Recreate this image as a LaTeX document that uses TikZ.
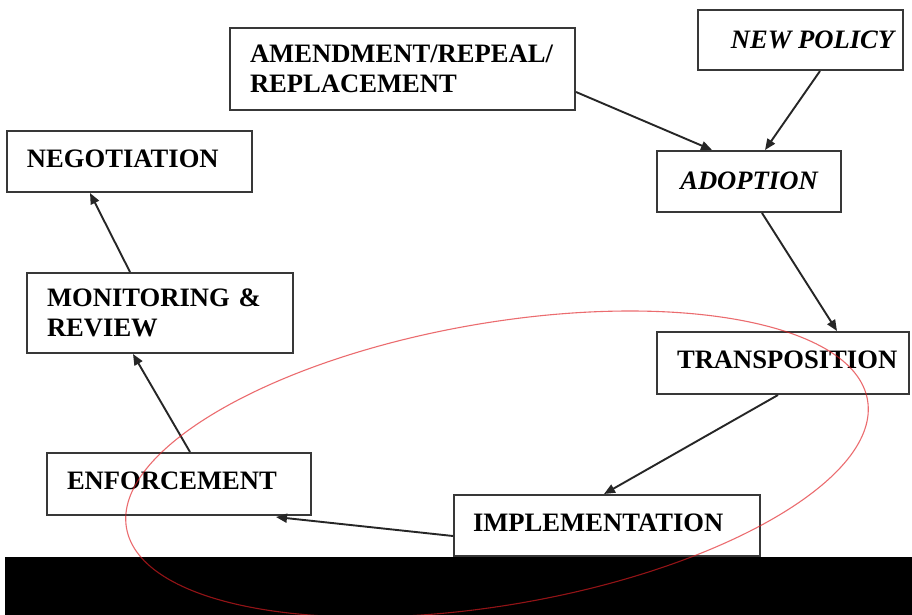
\documentclass[tikz,border=0pt]{standalone}
\usepackage{fontspec}
\setmainfont{Liberation Serif}
\usetikzlibrary{calc,arrows.meta}
\definecolor{ellred}{RGB}{225,30,35}
\begin{document}
\begin{tikzpicture}[x=1pt,y=-1pt,
  box/.style={draw=black!78, line width=2pt, fill=white,
    font=\fontsize{26.6}{30.5}\selectfont\bfseries,
    inner xsep=0pt, inner ysep=0pt, anchor=center},
  lbox/.style={box, align=left},
  conn/.style={draw=black!85, line width=1.9pt, -{Triangle[length=11pt,width=9pt]}},
]
\useasboundingbox (0,0) rectangle (912,615);
\fill[white] (0,0) rectangle (912,615);
\fill[black] (5,557) rectangle (912,615);

% boxes
\node[lbox, minimum width=345pt, minimum height=82pt, text width=305pt] (amd) at (402.5,69)
  {AMENDMENT/REPEAL/\\REPLACEMENT};
\node[box, minimum width=205pt, minimum height=60pt] (newp) at (800.5,40)
  {\hspace*{24pt}\itshape NEW POLICY};
\node[box, minimum width=184pt, minimum height=61pt, text depth=2pt] (ado) at (749,181.5)
  {\itshape ADOPTION};
\node[lbox, minimum width=245pt, minimum height=61pt, text width=205pt, text depth=6pt] (neg) at (129.5,161.5)
  {NEGOTIATION};
\node[lbox, minimum width=266pt, minimum height=80pt, text width=226pt] (mon) at (160,313)
  {MONITORING \&\\REVIEW};
\node[lbox, minimum width=252pt, minimum height=62pt, text width=212pt, text depth=6pt] (tra) at (783,363)
  {TRANSPOSITION};
\node[lbox, minimum width=264pt, minimum height=62pt, text width=224pt, text depth=6pt] (enf) at (179,484)
  {ENFORCEMENT};
\node[lbox, minimum width=306pt, minimum height=61pt, text width=268pt, text depth=6pt] (imp) at (607,525.5)
  {IMPLEMENTATION};

% connectors
\draw[conn] ($(amd.east)+(0,23)$) -- ($(ado.north)+(-37,0)$);
\draw[conn] ($(newp.south)+(19.5,0)$) -- ($(ado.north)+(16,0)$);
\draw[conn] ($(ado.south)+(13,0)$) -- ($(tra.north)+(54,0)$);
\draw[conn] ($(tra.south)+(-5,0)$) -- ($(imp.north)+(-3,0)$);
\draw[conn] ($(imp.west)+(0,10.5)$) -- ($(enf.south east)+(-36,1)$);
\draw[conn] ($(enf.north)+(11,0)$) -- ($(mon.south)+(-27,0)$);
\draw[conn] ($(mon.north)+(-30,0)$) -- ($(neg.south)+(-39.5,0)$);

% red ellipse
\draw[ellred, line width=1.1pt, draw opacity=0.65, rotate around={9.8:(497,464)}]
  (497,464) ellipse [x radius=376pt, y radius=141pt];
\end{tikzpicture}
\end{document}
